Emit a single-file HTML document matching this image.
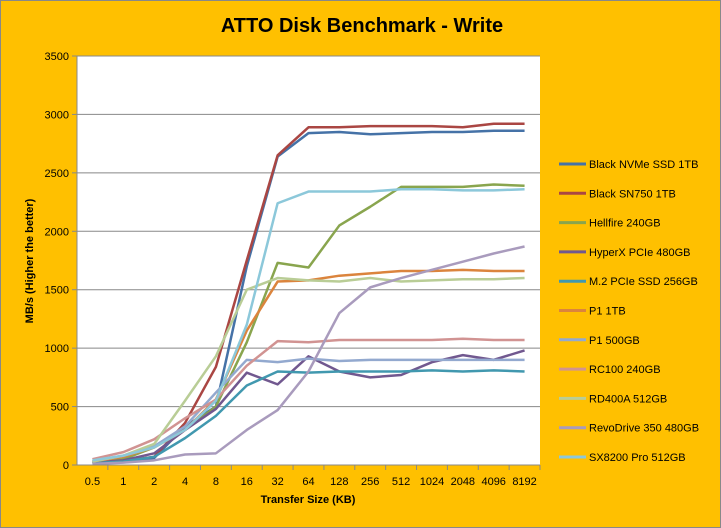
<!DOCTYPE html>
<html><head><meta charset="utf-8"><style>
html,body{margin:0;padding:0;background:#FFC000;}
svg{display:block;font-family:"Liberation Sans",sans-serif;}
</style></head><body>
<svg id="chart" width="721" height="528">
<rect x="0.5" y="0.5" width="720" height="527" fill="#FFC000" stroke="#888"/>
<text x="362" y="32" text-anchor="middle" font-size="20" font-weight="bold" fill="#000">ATTO Disk Benchmark - Write</text>
<rect x="77" y="56" width="463" height="409" fill="#fff"/>
<g id="grid"></g><g id="lines"></g><g id="axes"></g><g id="legend"></g>
<text transform="translate(33,261) rotate(-90)" text-anchor="middle" font-size="11" font-weight="bold">MB/s (Higher the better)</text>
<text x="308" y="503" text-anchor="middle" font-size="11" font-weight="bold">Transfer Size (KB)</text>
</svg>
<script>
const categories=["0.5","1","2","4","8","16","32","64","128","256","512","1024","2048","4096","8192"];
const yTicks=[0,500,1000,1500,2000,2500,3000,3500];
const seriesNames=["Black NVMe SSD 1TB","Black SN750 1TB","Hellfire 240GB","HyperX PCIe 480GB","M.2 PCIe SSD 256GB","P1 1TB","P1 500GB","RC100 240GB","RD400A 512GB","RevoDrive 350 480GB","SX8200 Pro 512GB"];
const seriesColors=["#4572A7","#AA4643","#89A54E","#71588F","#4198AF","#DB843D","#93A9CF","#D19392","#B9CD96","#A99BBD","#8CC8DA"];
const blackNvme=[15,30,60,330,500,1700,2640,2840,2850,2830,2840,2850,2850,2860,2860];
const blackSn750=[20,35,70,360,840,1750,2650,2890,2890,2900,2900,2900,2890,2920,2920];
const hellfire=[20,50,150,300,500,1050,1730,1690,2050,2210,2380,2380,2380,2400,2390];
const hyperx=[20,40,100,300,480,790,690,930,800,750,770,880,940,900,980];
const m2Pcie=[15,30,70,230,420,680,800,790,800,800,800,810,800,810,800];
const p1Tb=[30,70,150,300,560,1150,1570,1580,1620,1640,1660,1660,1670,1660,1660];
const p1500=[30,80,160,330,620,900,880,910,890,900,900,900,900,900,900];
const rc100=[50,110,220,400,560,850,1060,1050,1070,1070,1070,1070,1080,1070,1070];
const rd400a=[30,80,180,550,930,1500,1600,1580,1570,1600,1570,1580,1590,1590,1600];
const revoDrive=[10,20,40,90,100,300,470,800,1300,1520,1600,1670,1740,1810,1870];
const sx8200=[40,80,150,300,550,1200,2240,2340,2340,2340,2360,2360,2350,2350,2360];
const allSeries=[blackNvme,blackSn750,hellfire,hyperx,m2Pcie,p1Tb,p1500,rc100,rd400a,revoDrive,sx8200];
const NS="http://www.w3.org/2000/svg";
const L=77,R=540,T=56,B=465,YMAX=3500;
const cw=(R-L)/categories.length;
const xPos=i=>L+cw*(i+0.5);
const yPos=v=>B-(v/YMAX)*(B-T);
function mk(tag,parent,attrs){const e=document.createElementNS(NS,tag);for(const k in attrs)e.setAttribute(k,attrs[k]);parent.appendChild(e);return e;}
const grid=document.getElementById('grid'),axes=document.getElementById('axes'),lines=document.getElementById('lines'),legend=document.getElementById('legend');
yTicks.forEach(v=>{
  if(v>0){const g=mk('line',grid,{x1:L,x2:R,y1:yPos(v),y2:yPos(v),stroke:'#888','stroke-width':1});
  
  }
  const t=mk('text',axes,{x:L-8,y:yPos(v)+4,'text-anchor':'end','font-size':11});
  t.textContent=v;
  
  
  const tk=mk('line',axes,{x1:L-5,x2:L,y1:yPos(v),y2:yPos(v),stroke:'#888'});
  
  
});
const ya=mk('line',axes,{x1:L,x2:L,y1:T,y2:B,stroke:'#888'});


const xa=mk('line',axes,{x1:L,x2:R,y1:B,y2:B,stroke:'#888'});


categories.forEach((c,i)=>{
  const tk=mk('line',axes,{x1:L+cw*(i+1),x2:L+cw*(i+1),y1:B,y2:B+5,stroke:'#888'});
  
  
  const t=mk('text',axes,{x:xPos(i),y:B+20,'text-anchor':'middle','font-size':11});
  t.textContent=c;
  
  
});
allSeries.forEach((s,k)=>{
  const p=mk('polyline',lines,{points:s.map((v,i)=>xPos(i)+','+yPos(v)).join(' '),fill:'none',stroke:seriesColors[k],'stroke-width':2.5,'stroke-linejoin':'round'});
  
  
  const y=164+k*29.3;
  const ll=mk('line',legend,{x1:559,x2:586,y1:y,y2:y,stroke:seriesColors[k],'stroke-width':3});
  
  
  const lt=mk('text',legend,{x:589,y:y+4,'font-size':11});
  lt.textContent=seriesNames[k];
  
  
});
</script>
</body></html>
